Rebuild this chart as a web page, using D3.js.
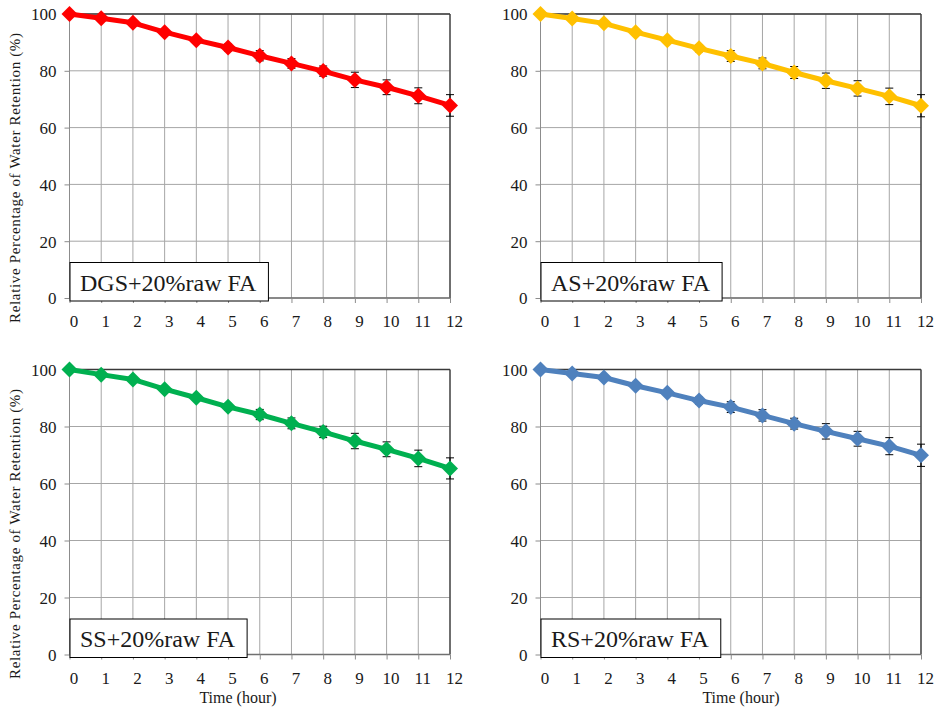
<!DOCTYPE html>
<html>
<head>
<meta charset="utf-8">
<script src="https://cdn.jsdelivr.net/npm/d3@7/dist/d3.min.js"></script>
<style>
  body { margin: 0; background: #fff; }
  svg { display: block; }
  text { font-family: "Liberation Serif", "Times New Roman", serif; fill: #1a1a1a; }
</style>
</head>
<body>
<svg id="chart" width="941" height="712"></svg>
<script>
// ---- data ----
const hours = [0, 1, 2, 3, 4, 5, 6, 7, 8, 9, 10, 11, 12];
const yTicks = [0, 20, 40, 60, 80, 100];

const dgsValues = [100, 98.5, 96.9, 93.6, 90.8, 88.2, 85.3, 82.6, 79.9, 76.8, 74.2, 71.2, 67.8];
const dgsErrors = [0, 0.4, 0.5, 0.7, 0.9, 1.2, 1.8, 1.7, 1.8, 2.7, 2.6, 2.8, 3.8];

const asValues = [100, 98.4, 96.7, 93.6, 90.8, 87.9, 85.2, 82.6, 79.4, 76.5, 73.8, 71.0, 67.7];
const asErrors = [0, 0.4, 0.5, 0.7, 0.9, 1.2, 1.9, 1.9, 2.1, 2.7, 2.7, 2.9, 3.9];

const ssValues = [100, 98.2, 96.5, 93.1, 90.1, 86.9, 84.2, 81.1, 78.1, 74.9, 72.0, 68.8, 65.3];
const ssErrors = [0, 0.4, 0.5, 0.7, 0.9, 1.2, 1.8, 1.9, 2.0, 2.7, 2.6, 2.9, 3.7];

const rsValues = [100, 98.6, 97.2, 94.3, 91.8, 89.1, 86.8, 83.9, 81.0, 78.3, 75.7, 73.1, 69.9];
const rsErrors = [0, 0.4, 0.5, 0.7, 0.9, 1.2, 1.9, 2.0, 1.9, 2.7, 2.6, 3.0, 3.9];

const panelLabels = ["DGS+20%raw FA", "AS+20%raw FA", "SS+20%raw FA", "RS+20%raw FA"];
const panelColors = ["#ff0000", "#ffc000", "#00b050", "#4f81bd"];
const yTitle = "Relative Percentage of Water Retention (%)";
const xTitle = "Time (hour)";

// ---- layout ----
const panels = [
  { values: dgsValues, errors: dgsErrors, left: 69.5, right: 450, top: 14, bottom: 298, yTitle: true, xTitle: false },
  { values: asValues, errors: asErrors, left: 540.5, right: 921, top: 14, bottom: 298, yTitle: false, xTitle: false },
  { values: ssValues, errors: ssErrors, left: 69.5, right: 450, top: 369.5, bottom: 654.5, yTitle: true, xTitle: true },
  { values: rsValues, errors: rsErrors, left: 540.5, right: 921, top: 369.5, bottom: 654.5, yTitle: false, xTitle: true }
];

const svg = d3.select("#chart");

panels.forEach((p, i) => {
  const x = d3.scaleLinear().domain([0, 12]).range([p.left, p.right]);
  const y = d3.scaleLinear().domain([0, 100]).range([p.bottom, p.top]);
  const g = svg.append("g");
  const color = panelColors[i];

  // grid
  g.selectAll(".vg").data(hours).enter().append("line")
    .attr("x1", d => x(d)).attr("x2", d => x(d))
    .attr("y1", p.top).attr("y2", p.bottom)
    .attr("stroke", "#a6a6a6").attr("stroke-width", 1);
  g.selectAll(".hg").data(yTicks).enter().append("line")
    .attr("x1", p.left).attr("x2", p.right)
    .attr("y1", d => y(d)).attr("y2", d => y(d))
    .attr("stroke", "#a6a6a6").attr("stroke-width", 1);

  // border top and right
  g.append("line").attr("x1", p.left).attr("x2", p.right).attr("y1", y(100)).attr("y2", y(100))
    .attr("stroke", "#3a3a3a").attr("stroke-width", 1.3);
  g.append("line").attr("x1", p.right).attr("x2", p.right).attr("y1", p.top).attr("y2", p.bottom)
    .attr("stroke", "#3a3a3a").attr("stroke-width", 1.3);
  // bottom axis line
  g.append("line").attr("x1", p.left).attr("x2", p.right).attr("y1", p.bottom).attr("y2", p.bottom)
    .attr("stroke", "#707070").attr("stroke-width", 1.3);
  g.append("line").attr("x1", p.left).attr("x2", p.left).attr("y1", p.top).attr("y2", p.bottom)
    .attr("stroke", "#8c8c8c").attr("stroke-width", 1);

  // x axis
  const xAxis = d3.axisBottom(x).tickValues(hours).tickSize(5).tickPadding(12).tickFormat(d3.format("d"));
  const xa = g.append("g").attr("transform", `translate(0,${p.bottom})`).call(xAxis);
  xa.attr("font-family", null);
  xa.select(".domain").remove();
  xa.selectAll(".tick line").attr("stroke", "#8c8c8c");
  xa.selectAll(".tick text").style("font-size", "17px").style("font-family", "'Liberation Serif', serif")
    .attr("fill", "#1a1a1a").attr("dx", 4);

  // y axis
  const yAxis = d3.axisLeft(y).tickValues(yTicks).tickSize(5).tickPadding(8).tickFormat(d3.format("d"));
  const ya = g.append("g").attr("transform", `translate(${p.left},0)`).call(yAxis);
  ya.attr("font-family", null);
  ya.select(".domain").remove();
  ya.selectAll(".tick line").attr("stroke", "#8c8c8c");
  ya.selectAll(".tick text").style("font-size", "17px").style("font-family", "'Liberation Serif', serif")
    .attr("fill", "#1a1a1a").attr("dy", "0.35em");

  // error bars (drawn beneath the line and markers)
  const eb = g.selectAll(".eb").data(p.values.map((v, j) => ({ t: hours[j], v, e: p.errors[j] })).filter(d => d.e > 0))
    .enter().append("g");
  eb.append("line").attr("x1", d => x(d.t)).attr("x2", d => x(d.t))
    .attr("y1", d => y(d.v + d.e)).attr("y2", d => y(d.v - d.e))
    .attr("stroke", "#000").attr("stroke-width", 1);
  eb.append("line").attr("x1", d => x(d.t) - 4).attr("x2", d => x(d.t) + 4)
    .attr("y1", d => y(d.v + d.e)).attr("y2", d => y(d.v + d.e))
    .attr("stroke", "#000").attr("stroke-width", 1);
  eb.append("line").attr("x1", d => x(d.t) - 4).attr("x2", d => x(d.t) + 4)
    .attr("y1", d => y(d.v - d.e)).attr("y2", d => y(d.v - d.e))
    .attr("stroke", "#000").attr("stroke-width", 1);

  // line
  const line = d3.line().x((d, j) => x(hours[j])).y(d => y(d));
  g.append("path").datum(p.values).attr("d", line)
    .attr("fill", "none").attr("stroke", color).attr("stroke-width", 5).attr("stroke-linejoin", "round");

  // markers
  g.selectAll(".mk").data(p.values).enter().append("path")
    .attr("d", "M0,-8L8,0L0,8L-8,0Z")
    .attr("transform", (d, j) => `translate(${x(hours[j])},${y(d)})`)
    .attr("fill", color);

  // label box
  const lb = g.append("g");
  const rect = lb.append("rect");
  const txt = lb.append("text").attr("x", p.left + 10.5).attr("y", p.bottom - 7.5)
    .style("font-size", "24px").text(panelLabels[i]);
  const w = txt.node().getComputedTextLength();
  rect.attr("x", p.left + 0.5).attr("y", p.bottom - 35.5).attr("width", w + 22).attr("height", 38.5)
    .attr("fill", "#fff").attr("stroke", "#000").attr("stroke-width", 1);

  if (p.yTitle) {
    const cy = (p.top + p.bottom) / 2 + 22;
    g.append("text").attr("transform", `translate(20,${cy}) rotate(-90)`)
      .attr("text-anchor", "middle").style("font-size", "15px")
      .attr("textLength", 290).attr("lengthAdjust", "spacing")
      .text(yTitle);
  }
  if (p.xTitle) {
    const cx = i === 2 ? 238 : 741;
    g.append("text").attr("x", cx).attr("y", 703).attr("text-anchor", "middle")
      .style("font-size", "16px").text(xTitle);
  }
});
</script>
</body>
</html>
